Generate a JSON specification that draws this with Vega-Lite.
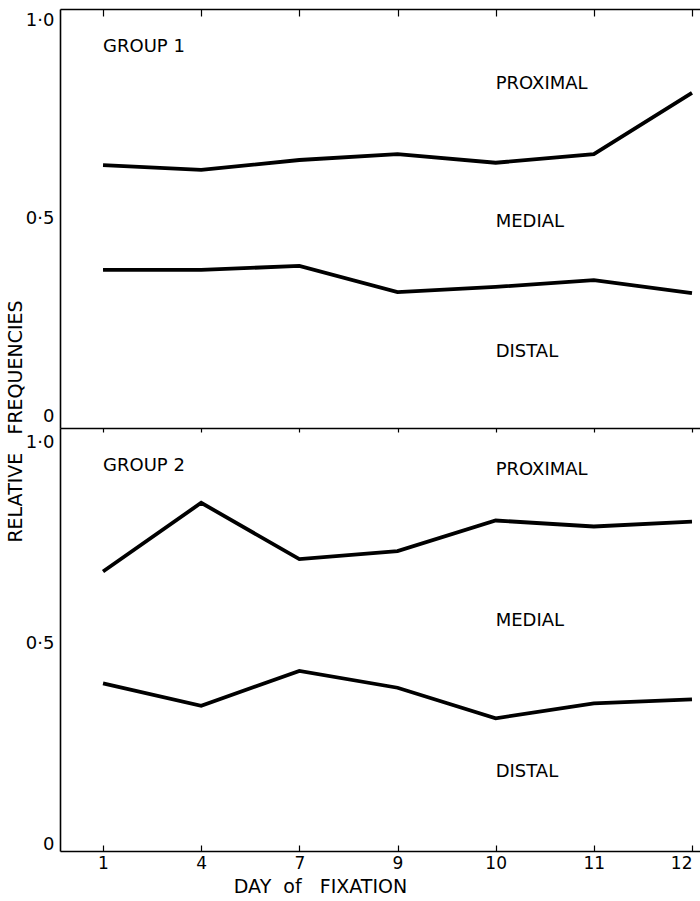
{
  "$schema": "https://vega.github.io/schema/vega-lite/v6.json",
  "padding": {"left": 6, "top": 8, "right": 0, "bottom": 0},
  "background": "white",
  "bounds": "flush",
  "spacing": 0,
  "config": {
    "font": "DejaVu Sans",
    "view": {"stroke": null},
    "axis": {
      "domainColor": "black",
      "domainWidth": 1.6,
      "tickColor": "black",
      "tickWidth": 1.2,
      "labelColor": "black",
      "titleColor": "black",
      "grid": false,
      "labelFont": "DejaVu Sans",
      "titleFont": "DejaVu Sans",
      "titleFontWeight": "normal"
    }
  },
  "datasets": {
    "lines1": [
      {"boundary": "proximal-medial", "day": 1, "freq": 0.635},
      {"boundary": "proximal-medial", "day": 4, "freq": 0.623},
      {"boundary": "proximal-medial", "day": 7, "freq": 0.648},
      {"boundary": "proximal-medial", "day": 9, "freq": 0.663},
      {"boundary": "proximal-medial", "day": 10, "freq": 0.641},
      {"boundary": "proximal-medial", "day": 11, "freq": 0.663},
      {"boundary": "proximal-medial", "day": 12, "freq": 0.818},
      {"boundary": "medial-distal", "day": 1, "freq": 0.370},
      {"boundary": "medial-distal", "day": 4, "freq": 0.370},
      {"boundary": "medial-distal", "day": 7, "freq": 0.380},
      {"boundary": "medial-distal", "day": 9, "freq": 0.314},
      {"boundary": "medial-distal", "day": 10, "freq": 0.327},
      {"boundary": "medial-distal", "day": 11, "freq": 0.344},
      {"boundary": "medial-distal", "day": 12, "freq": 0.311}
    ],
    "lines2": [
      {"boundary": "proximal-medial", "day": 1, "freq": 0.680},
      {"boundary": "proximal-medial", "day": 4, "freq": 0.851},
      {"boundary": "proximal-medial", "day": 7, "freq": 0.711},
      {"boundary": "proximal-medial", "day": 9, "freq": 0.731},
      {"boundary": "proximal-medial", "day": 10, "freq": 0.807},
      {"boundary": "proximal-medial", "day": 11, "freq": 0.792},
      {"boundary": "proximal-medial", "day": 12, "freq": 0.804},
      {"boundary": "medial-distal", "day": 1, "freq": 0.402},
      {"boundary": "medial-distal", "day": 4, "freq": 0.346},
      {"boundary": "medial-distal", "day": 7, "freq": 0.433},
      {"boundary": "medial-distal", "day": 9, "freq": 0.391},
      {"boundary": "medial-distal", "day": 10, "freq": 0.315},
      {"boundary": "medial-distal", "day": 11, "freq": 0.352},
      {"boundary": "medial-distal", "day": 12, "freq": 0.362}
    ],
    "labels1": [
      {"label": "GROUP 1", "day": 1, "freq": 0.934, "kind": "group"},
      {"label": "PROXIMAL", "day": 10, "freq": 0.841, "kind": "zone"},
      {"label": "MEDIAL", "day": 10, "freq": 0.492, "kind": "zone"},
      {"label": "DISTAL", "day": 10, "freq": 0.162, "kind": "zone"}
    ],
    "labels2": [
      {"label": "GROUP 2", "day": 1, "freq": 0.943, "kind": "group"},
      {"label": "PROXIMAL", "day": 10, "freq": 0.933, "kind": "zone"},
      {"label": "MEDIAL", "day": 10, "freq": 0.557, "kind": "zone"},
      {"label": "DISTAL", "day": 10, "freq": 0.182, "kind": "zone"}
    ]
  },
  "vconcat": [
    {
      "width": 640,
      "height": 419,
      "resolve": {"axis": {"x": "independent"}},
      "layer": [
        {
          "data": {"name": "lines1"},
          "mark": {"type": "line", "color": "black", "strokeWidth": 3.8, "strokeJoin": "miter"},
          "encoding": {
            "x": {
              "field": "day", "type": "ordinal",
              "scale": {"type": "point", "domain": [1, 4, 7, 9, 10, 11, 12], "padding": 0.26, "align": 0.843},
              "axis": {"orient": "top", "labels": false, "title": null, "tickSize": -7}
            },
            "y": {
              "field": "freq", "type": "quantitative",
              "scale": {"domain": [-0.03, 1.03], "nice": false, "zero": false},
              "axis": {
                "values": [0, 0.5, 1],
                "labelExpr": "datum.value == 0 ? '0' : replace(format(datum.value, '.1f'), '.', '·')",
                "ticks": false,
                "labelPadding": 6,
                "labelFontSize": 18,
                "title": "RELATIVE\u00a0\u00a0\u00a0FREQUENCIES",
                "titleFontSize": 19,
                "titleAngle": 270,
                "titleAlign": "center",
                "titleBaseline": "middle",
                "titleX": -45,
                "titleY": 412
              }
            },
            "detail": {"field": "boundary"}
          }
        },
        {
          "data": {"name": "labels1"},
          "mark": {"type": "text", "align": "left", "baseline": "middle", "fontSize": 18, "color": "black"},
          "encoding": {
            "x": {
              "field": "day", "type": "ordinal",
              "scale": {"type": "point", "domain": [1, 4, 7, 9, 10, 11, 12], "padding": 0.26, "align": 0.843},
              "axis": {"orient": "bottom", "labels": false, "title": null, "tickSize": 4}
            },
            "y": {"field": "freq", "type": "quantitative"},
            "text": {"field": "label"},
            "dx": {"condition": {"test": "datum.kind == 'group'", "value": -2}, "value": -6}
          }
        }
      ]
    },
    {
      "width": 640,
      "height": 423,
      "layer": [
        {
          "data": {"name": "lines2"},
          "mark": {"type": "line", "color": "black", "strokeWidth": 3.8, "strokeJoin": "miter"},
          "encoding": {
            "x": {
              "field": "day", "type": "ordinal",
              "scale": {"type": "point", "domain": [1, 4, 7, 9, 10, 11, 12], "padding": 0.26, "align": 0.843},
              "axis": {
                "orient": "bottom",
                "labelAngle": 0,
                "labelFontSize": 17,
                "labelFlush": 10,
                "tickSize": -6,
                "labelPadding": 10,
                "title": "DAY\u00a0\u00a0of\u00a0\u00a0\u00a0FIXATION",
                "titleFontSize": 19,
                "titleX": 260,
                "titlePadding": 6
              }
            },
            "y": {
              "field": "freq", "type": "quantitative",
              "scale": {"domain": [-0.015, 1.037], "nice": false, "zero": false},
              "axis": {
                "values": [0, 0.5, 1],
                "labelExpr": "datum.value == 0 ? '0' : replace(format(datum.value, '.1f'), '.', '·')",
                "ticks": false,
                "labelPadding": 6,
                "labelFontSize": 18,
                "title": null
              }
            },
            "detail": {"field": "boundary"}
          }
        },
        {
          "data": {"name": "labels2"},
          "mark": {"type": "text", "align": "left", "baseline": "middle", "fontSize": 18, "color": "black"},
          "encoding": {
            "x": {"field": "day", "type": "ordinal"},
            "y": {"field": "freq", "type": "quantitative"},
            "text": {"field": "label"},
            "dx": {"condition": {"test": "datum.kind == 'group'", "value": -2}, "value": -6}
          }
        }
      ]
    }
  ]
}
